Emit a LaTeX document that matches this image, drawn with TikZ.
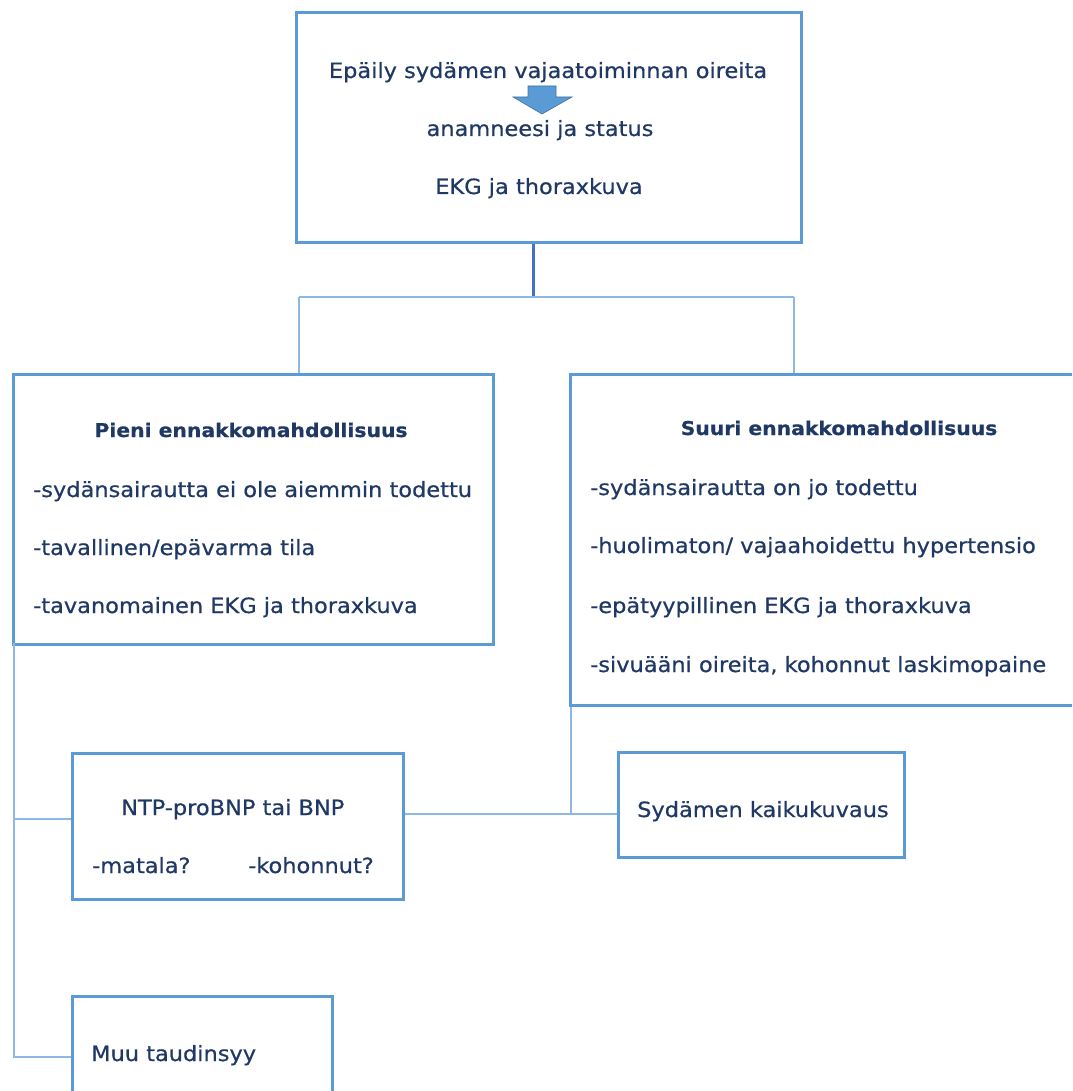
\documentclass[tikz,border=0pt]{standalone}
\usepackage{fontspec}
\setmainfont{DejaVu Sans}[FakeStretch=1.07, FakeBold=0.6]
\definecolor{navy}{HTML}{1F3864}
\definecolor{boxblue}{HTML}{5B9BD5}
\definecolor{lineblue}{HTML}{8DB8E2}
\definecolor{darkline}{HTML}{4472C4}
\definecolor{arrowedge}{HTML}{41719C}
\tikzset{
  box/.style={draw=boxblue, line width=3pt, rectangle, inner sep=0pt, anchor=north west},
  txt/.style={text=navy, inner sep=0pt, anchor=base west, font=\fontsize{21}{25}\selectfont},
  txtc/.style={txt, anchor=base},
  btxt/.style={text=navy, inner sep=0pt, anchor=base, font=\fontsize{19}{23}\selectfont\bfseries},
  conn/.style={draw=lineblue, line width=2pt},
  darkconn/.style={draw=darkline, line width=3pt}
}
\begin{document}
\begin{tikzpicture}[x=1pt,y=-1pt]
\useasboundingbox (0,0) rectangle (1072,1091);
\clip (0,0) rectangle (1072,1091);
% boxes
\node[box, minimum width=505pt, minimum height=230pt] (top) at (295,11) {};
\node[box, minimum width=480pt, minimum height=270pt] (left) at (12,373) {};
\node[box, minimum width=530pt, minimum height=331pt] (right) at (569,373) {};
\node[box, minimum width=331pt, minimum height=146pt] (ntp) at (71,752) {};
\node[box, minimum width=286pt, minimum height=105pt] (syd) at (617,751) {};
\node[box, minimum width=260pt, minimum height=120pt] (muu) at (71,995) {};
% top box text
\node[txtc] (t1) at (548,78) {Epäily sydämen vajaatoiminnan oireita};
\node[txtc] (t2) at (540,136) {anamneesi ja status};
\node[txtc] (t3) at (539,194) {EKG ja thoraxkuva};
% block arrow
\filldraw[fill=boxblue, draw=arrowedge, line width=0.6pt]
  (528,86) -- (556,86) -- (556,97) -- (572,97) -- (542,114) -- (513,97) -- (528,97) -- cycle;
% left box text
\node[btxt] (l0) at (251,437) {Pieni ennakkomahdollisuus};
\node[txt] (l1) at (33,497) {-sydänsairautta ei ole aiemmin todettu};
\node[txt] (l2) at (33,555) {-tavallinen/epävarma tila};
\node[txt] (l3) at (33,613) {-tavanomainen EKG ja thoraxkuva};
% right box text
\node[btxt] (r0) at (839,435) {Suuri ennakkomahdollisuus};
\node[txt] (r1) at (590,495) {-sydänsairautta on jo todettu};
\node[txt] (r2) at (590,553) {-huolimaton/ vajaahoidettu hypertensio};
\node[txt] (r3) at (590,613) {-epätyypillinen EKG ja thoraxkuva};
\node[txt] (r4) at (590,672) {-sivuääni oireita, kohonnut laskimopaine};
% small boxes text
\node[txt] (n1) at (121,815) {NTP-proBNP tai BNP};
\node[txt] (n2) at (92,873) {-matala?};
\node[txt] (n3) at (248,873) {-kohonnut?};
\node[txt] (s1) at (637,817) {Sydämen kaikukuvaus};
\node[txt] (m1) at (91,1061) {Muu taudinsyy};
% connectors
\coordinate (j1) at (533,297);
\coordinate (lj) at (299,297);
\coordinate (rj) at (794,297);
\draw[darkconn] (top.south -| j1) -- (j1);
\draw[conn] (lj) -- (rj);
\draw[conn] (lj) -- (lj |- left.north);
\draw[conn] (rj) -- (rj |- right.north);
\coordinate (lv) at (14,643);
\coordinate (b1) at (14,819);
\draw[conn] (lv) |- (muu.west);
\draw[conn] (b1) -- (b1 -| ntp.west);
\coordinate (h) at (571,814);
\draw[conn] (ntp.east |- h) -- (syd.west |- h);
\draw[conn] (h |- right.south) -- (h);
\end{tikzpicture}
\end{document}
